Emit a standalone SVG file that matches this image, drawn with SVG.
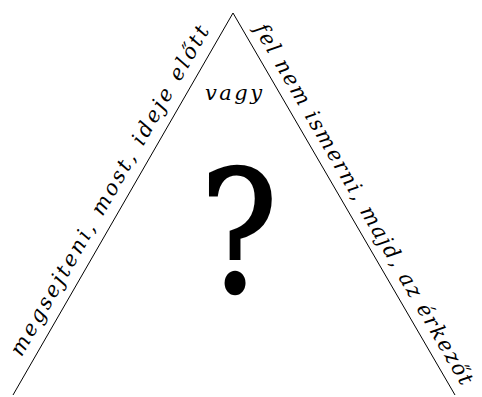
<svg xmlns="http://www.w3.org/2000/svg" width="482" height="397" viewBox="0 0 482 397">
<style>
.side{font-family:'DejaVu Serif',serif;font-style:italic;font-size:21px;fill:#000}
.q{font-family:'DejaVu Serif',serif;font-size:168px;fill:#000;stroke:#000;stroke-width:2.5px}
</style>
<rect width="482" height="397" fill="#fff"/>
<g id="triangle">
<polyline points="13,395 233,13 455,395" fill="none" stroke="#000" stroke-width="1"/>
</g>
<g id="left-label">
<text class="side" transform="translate(21.5,357.5) rotate(-60.07)" textLength="377" lengthAdjust="spacing">megsejteni, most, ideje előtt</text>
</g>
<g id="right-label">
<text class="side" transform="translate(253.7,28.7) rotate(59.84)" textLength="414" lengthAdjust="spacing">fel nem ismerni, majd, az érkezőt</text>
</g>
<g id="vagy">
<text class="side" x="205" y="100" textLength="57" lengthAdjust="spacing">vagy</text>
</g>
<g id="question">
<text class="q" transform="translate(239,292) scale(0.86,1)" text-anchor="middle">?</text>
</g>
</svg>
